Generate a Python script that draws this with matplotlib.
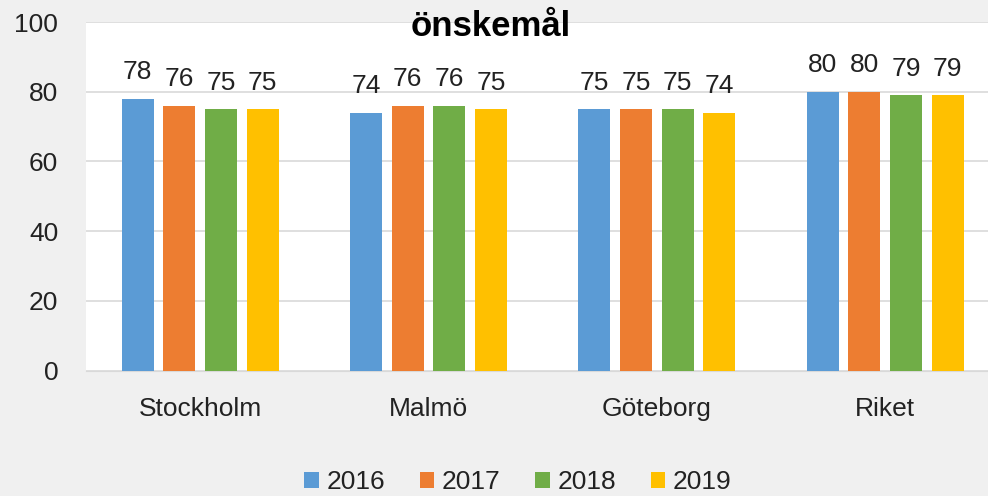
import numpy as np
import matplotlib.pyplot as plt

## Dati

kategorier = ["Stockholm", "Malmö", "Göteborg", "Riket"]
ar_lista = ["2016", "2017", "2018", "2019"]
v2016 = [78, 74, 75, 80]
v2017 = [76, 76, 75, 80]
v2018 = [75, 76, 75, 79]
v2019 = [75, 75, 74, 79]
yticks = [0, 20, 40, 60, 80, 100]

serier = [v2016, v2017, v2018, v2019]
farger = ["#5b9bd5", "#ed7d31", "#70ad47", "#ffc000"]

plt.rcParams['font.family'] = ['Liberation Sans', 'DejaVu Sans']

## Figur

fig = plt.figure(figsize=(9.88, 4.96), dpi=100, facecolor="#f0f0f0")
ax = fig.add_axes([86/988, 1 - 370.7/496, 902/988, 348.7/496])
ax.set_facecolor("white")

x = np.arange(len(kategorier))
steg = 0.1826
bredd = 0.14
for i, (vals, farg, ar) in enumerate(zip(serier, farger, ar_lista)):
    pos = x + (i - 1.5) * steg
    ax.bar(pos, vals, width=bredd, color=farg, label=ar, zorder=3)
    for px, v in zip(pos, vals):
        ax.annotate(str(v), (px, v), xytext=(0, 14), textcoords="offset points",
                    ha="center", va="baseline", fontsize=19, color="#222222")

ax.set_xlim(-0.5, 3.45)
ax.set_ylim(0, 100)
ax.set_yticks(yticks)
ax.set_xticks(x)
ax.set_xticklabels(kategorier)
ax.tick_params(axis="both", length=0, labelsize=19, colors="#222222")
ax.tick_params(axis="x", pad=19)
ax.tick_params(axis="y", pad=20)
ax.grid(axis="y", color="#d9d9d9", lw=1.2, zorder=0)
for s in ["top", "left", "right"]:
    ax.spines[s].set_visible(False)
ax.spines["bottom"].set_color("#d9d9d9")

fig.text(491/988, 1 - 36/496, "önskemål", ha="center", va="baseline",
         fontsize=25, fontweight="bold", color="black")

fig.legend(loc="center", bbox_to_anchor=(518/988, 1 - 482/496), ncol=4,
           frameon=False, fontsize=19, handlelength=0.55, handleheight=0.55,
           handletextpad=0.3, columnspacing=1.3, labelcolor="#222222")

plt.savefig("out.png", dpi=100, facecolor=fig.get_facecolor())
